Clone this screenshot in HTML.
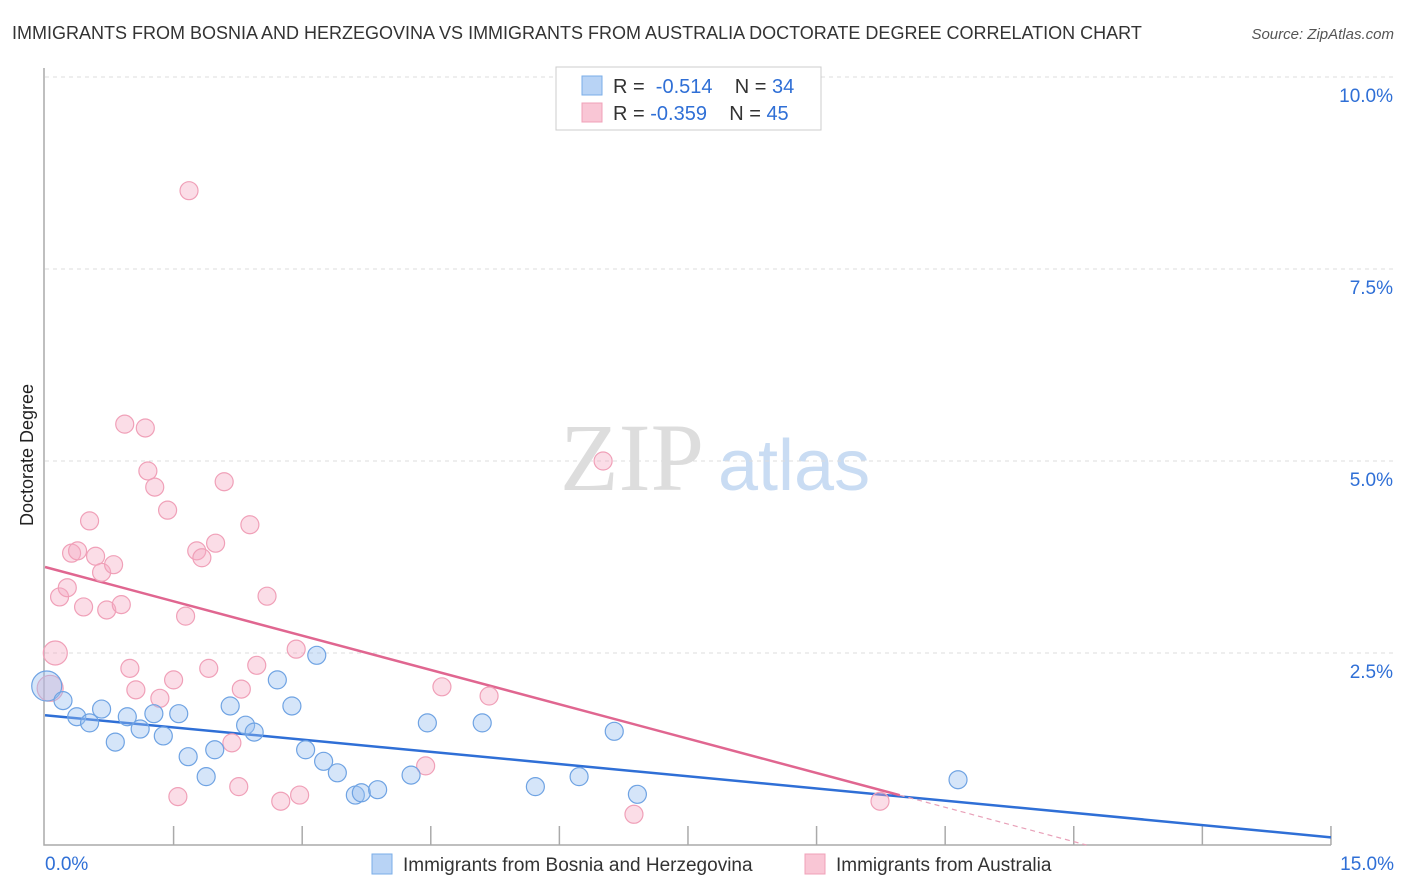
<!DOCTYPE html>
<html><head><meta charset="utf-8"><style>
body{margin:0;background:#fff;font-family:"Liberation Sans",sans-serif;}
svg{display:block}
</style></head><body>
<svg id="chart" width="1406" height="892" xmlns="http://www.w3.org/2000/svg">
<text x="12" y="39" font-size="18" fill="#333">IMMIGRANTS FROM BOSNIA AND HERZEGOVINA VS IMMIGRANTS FROM AUSTRALIA DOCTORATE DEGREE CORRELATION CHART</text>
<text x="1394" y="39" font-size="15" fill="#555" font-style="italic" text-anchor="end">Source: ZipAtlas.com</text>
<text x="560" y="490" font-size="96" fill="#ddd" font-family="Liberation Serif,serif">ZIP</text>
<text x="718" y="490" font-size="72" fill="#c9dcf3">atlas</text>
<text transform="translate(33,455) rotate(-90)" font-size="18" fill="#222" text-anchor="middle">Doctorate Degree</text>
<g id="grid"></g><g id="axes"></g><g id="lines"></g><g id="points"></g>
<g>
<rect x="556" y="67" width="265" height="63" fill="#fff" stroke="#ccc"/>
<rect x="582" y="76" width="20" height="19" fill="#b8d3f5" stroke="#7aaee8"/>
<rect x="582" y="103" width="20" height="19" fill="#f9c6d5" stroke="#f0a0b8"/>
<text x="613" y="93" font-size="20" fill="#333">R = <tspan fill="#2f6fd6">&#160;-0.514</tspan>&#160;&#160;&#160;&#160;N = <tspan fill="#2f6fd6">34</tspan></text>
<text x="613" y="120" font-size="20" fill="#333">R = <tspan fill="#2f6fd6">-0.359</tspan>&#160;&#160;&#160;&#160;N = <tspan fill="#2f6fd6">45</tspan></text>
</g>
<g>
<rect x="372" y="854" width="20" height="20" fill="#b8d3f5" stroke="#7aaee8"/>
<text x="403" y="871" font-size="19" fill="#333">Immigrants from Bosnia and Herzegovina</text>
<rect x="805" y="854" width="20" height="20" fill="#f9c6d5" stroke="#f0a0b8"/>
<text x="836" y="871" font-size="19" fill="#333">Immigrants from Australia</text>
</g>
</svg>
<script>
const blueX=[0.02,0.21,0.37,0.52,0.66,0.82,0.96,1.11,1.27,1.38,1.56,1.67,1.88,1.98,2.16,2.34,2.44,2.71,2.88,3.04,3.17,3.25,3.41,3.62,3.69,3.88,4.27,4.46,5.10,5.72,6.23,6.64,6.91,10.65];
const blueY=[2.07,1.88,1.67,1.59,1.77,1.34,1.67,1.51,1.71,1.42,1.71,1.15,0.89,1.24,1.81,1.56,1.47,2.15,1.81,1.24,2.47,1.09,0.94,0.65,0.68,0.72,0.91,1.59,1.59,0.76,0.89,1.48,0.66,0.85];
const pinkX=[0.12,0.06,0.17,0.26,0.31,0.38,0.45,0.52,0.59,0.66,0.72,0.80,0.89,0.93,0.99,1.06,1.17,1.20,1.28,1.34,1.43,1.50,1.55,1.64,1.68,1.77,1.83,1.91,1.99,2.09,2.18,2.26,2.29,2.39,2.47,2.59,2.75,2.93,2.97,4.63,4.44,5.18,6.51,6.87,9.74];
const pinkY=[2.50,2.04,3.23,3.35,3.80,3.83,3.10,4.22,3.76,3.55,3.06,3.65,3.13,5.48,2.30,2.02,5.43,4.87,4.66,1.91,4.36,2.15,0.63,2.98,8.52,3.83,3.74,2.30,3.93,4.73,1.33,0.76,2.03,4.17,2.34,3.24,0.57,2.55,0.65,2.06,1.03,1.94,5.00,0.40,0.57];
const yTicks=[2.5,5.0,7.5,10.0];
const yTickLabels=["2.5%","5.0%","7.5%","10.0%"];
const xTicks=[0,1.5,3,4.5,6,7.5,9,10.5,12,13.5,15];
const blueTrend=[1.69,0.10];
const pinkTrend=[3.62,-0.298];
const NS="http://www.w3.org/2000/svg";
const X=v=>45+v*85.73, Y=v=>845-v*76.8;
function mk(tag,attrs,parent){const e=document.createElementNS(NS,tag);for(const k in attrs)e.setAttribute(k,attrs[k]);document.getElementById(parent).appendChild(e);return e;}
yTicks.forEach((t,i)=>{
 const g=mk('line',{x1:45,x2:1394,y1:Y(t),y2:Y(t),stroke:'#ddd','stroke-dasharray':'4,4'},'grid');
 
 
 const l=mk('text',{x:1393,y:Y(t)+25,'font-size':19,fill:'#2f6fd6','text-anchor':'end'},'grid');
 l.textContent=yTickLabels[i];
 
 
});
const ax=mk('path',{d:`M44 68 V845 H1331`,fill:'none',stroke:'#aaa','stroke-width':1.5},'axes');


xTicks.forEach(t=>{if(t===0)return;
 const k=mk('line',{x1:X(t),x2:X(t),y1:826,y2:845,stroke:'#aaa','stroke-width':1.5},'axes');
 
 
});
const x0=mk('text',{x:45,y:870,'font-size':19,fill:'#2f6fd6'},'axes');x0.textContent='0.0%';


const x1=mk('text',{x:1394,y:870,'font-size':19,fill:'#2f6fd6','text-anchor':'end'},'axes');x1.textContent='15.0%';


function drawPts(xs,ys,fill,stroke,name){
 xs.forEach((x,i)=>{
  const r=(i===0)?(name==='bosnia-point'?15:12):(i===1&&name==='australia-point'?13:9);
  const c=mk('circle',{cx:X(x),cy:Y(ys[i]),r:r,fill:fill,stroke:stroke,'stroke-width':1.2},'points');
  
  
 });
}
drawPts(pinkX,pinkY,'rgba(246,170,195,0.4)','#f0a0b8','australia-point');
drawPts(blueX,blueY,'rgba(150,190,240,0.4)','#6fa3e3','bosnia-point');
const bl=mk('line',{x1:X(0),y1:Y(blueTrend[0]),x2:X(15),y2:Y(blueTrend[1]),stroke:'#2f6fd6','stroke-width':2.5},'lines');


const xs=9.97, xe=-pinkTrend[0]/pinkTrend[1];
const pl=mk('line',{x1:X(0),y1:Y(pinkTrend[0]),x2:X(xs),y2:Y(pinkTrend[0]+pinkTrend[1]*xs),stroke:'#e06690','stroke-width':2.5},'lines');


const pd=mk('line',{x1:X(xs),y1:Y(pinkTrend[0]+pinkTrend[1]*xs),x2:X(xe),y2:Y(0),stroke:'#e8a0b8','stroke-width':1.2,'stroke-dasharray':'5,4'},'lines');


</script>
</body></html>
